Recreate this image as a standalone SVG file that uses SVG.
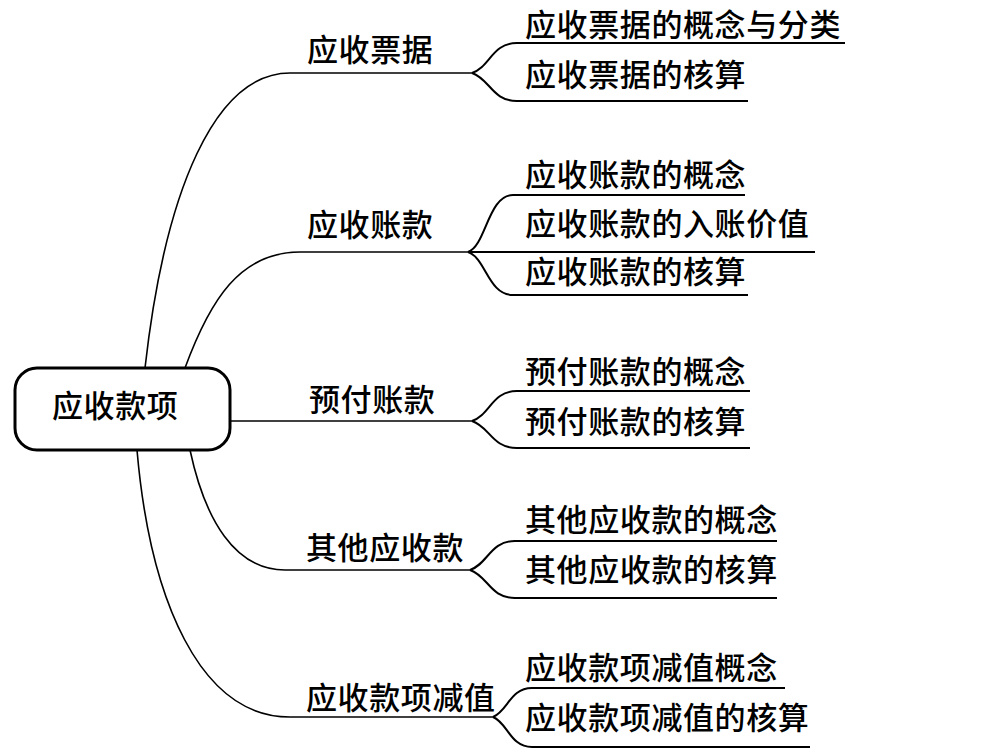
<svg xmlns="http://www.w3.org/2000/svg" width="1005" height="752" viewBox="0 0 1005 752">
<style>
text{font-family:"Noto Sans CJK SC","Noto Sans CJK TC",sans-serif;font-size:31px;letter-spacing:0.6px;font-weight:500;fill:#000;}
.c{fill:none;stroke:#000;stroke-width:1.6;}
.s{fill:none;stroke:#000;stroke-width:2;}
.root{fill:#fff;stroke:#000;stroke-width:3;}
</style>
<rect width="1005" height="752" fill="#fff"/>
<g id="connectors">
<path class="c" d="M145,368 C165,190 215,73 290,73 L472,73"/>
<path class="c" d="M185,368 C210,300 240,252 300,252 L468,252"/>
<path class="c" d="M230,421 L472,421"/>
<path class="c" d="M190,450 C205,520 235,570 285,570 L470,570"/>
<path class="c" d="M137,450 C150,600 200,717 290,717 L493,717"/>
<path class="s" d="M472,73 C490,67 492,43 517,43 L845,43"/>
<path class="s" d="M472,73 C490,79 492,101 517,101 L748,101"/>
<path class="s" d="M468,252 C486,246 488,195 513,195 L745,195"/>
<path class="s" d="M468,252 L815,252"/>
<path class="s" d="M468,252 C486,258 488,295 513,295 L748,295"/>
<path class="s" d="M472,421 C490,415 492,391 517,391 L750,391"/>
<path class="s" d="M472,421 C490,427 492,448 517,448 L750,448"/>
<path class="s" d="M470,570 C488,564 490,541 515,541 L777,541"/>
<path class="s" d="M470,570 C488,576 490,598 515,598 L777,598"/>
<path class="s" d="M493,717 C508,711 510,688 532,688 L785,688"/>
<path class="s" d="M493,717 C508,723 510,747 532,747 L810,747"/>
</g>
<g id="root">
<rect class="root" x="15" y="368" width="215" height="82" rx="22"/>
<text x="52" y="417">应收款项</text>
</g>
<g id="n1"><text x="307" y="61">应收票据</text></g>
<g id="n1a"><text x="525" y="36">应收票据的概念与分类</text></g>
<g id="n1b"><text x="525" y="86">应收票据的核算</text></g>
<g id="n2"><text x="307" y="236">应收账款</text></g>
<g id="n2a"><text x="525" y="186">应收账款的概念</text></g>
<g id="n2b"><text x="525" y="235">应收账款的入账价值</text></g>
<g id="n2c"><text x="525" y="283">应收账款的核算</text></g>
<g id="n3"><text x="309" y="411">预付账款</text></g>
<g id="n3a"><text x="525" y="383">预付账款的概念</text></g>
<g id="n3b"><text x="525" y="433">预付账款的核算</text></g>
<g id="n4"><text x="306" y="559">其他应收款</text></g>
<g id="n4a"><text x="525" y="531">其他应收款的概念</text></g>
<g id="n4b"><text x="525" y="581">其他应收款的核算</text></g>
<g id="n5"><text x="306" y="709">应收款项减值</text></g>
<g id="n5a"><text x="525" y="679">应收款项减值概念</text></g>
<g id="n5b"><text x="525" y="729">应收款项减值的核算</text></g>
</svg>
